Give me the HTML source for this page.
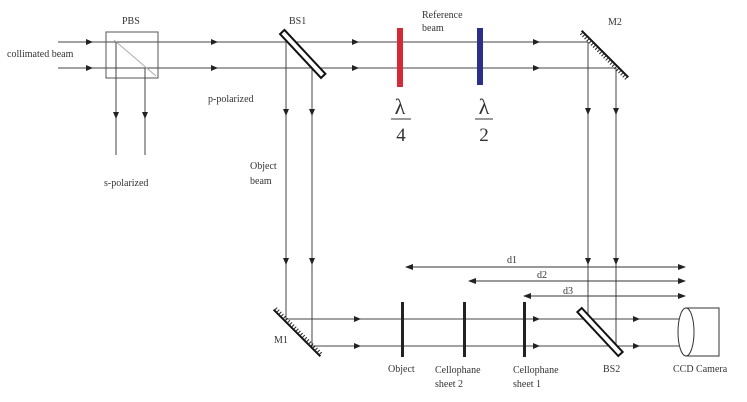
<!DOCTYPE html>
<html><head><style>
body{margin:0;background:#fff}
svg{display:block}
text{font-family:"Liberation Serif",serif;fill:#333;font-size:10px}
</style></head><body>
<svg width="747" height="402" viewBox="0 0 747 402" xmlns="http://www.w3.org/2000/svg">
<defs>
<marker id="a" markerWidth="8" markerHeight="6" refX="4" refY="3" orient="auto" markerUnits="userSpaceOnUse"><path d="M0,0 L7,3 L0,6 z" fill="#222"/></marker>
<marker id="e" markerWidth="8" markerHeight="6" refX="7" refY="3" orient="auto-start-reverse" markerUnits="userSpaceOnUse"><path d="M0,0 L8,3 L0,6 z" fill="#222"/></marker>
<pattern id="h" width="3" height="6" patternUnits="userSpaceOnUse"><line x1="1" y1="0" x2="1" y2="6" stroke="#222" stroke-width="1"/></pattern>
</defs>
<g stroke="#444" stroke-width="1" fill="none">
<path d="M58,42 H588"/><path d="M58,68 H615"/>
<rect x="106" y="32" width="52" height="46" stroke="#555"/>
<path d="M114,40 L156,76" stroke="#aaa"/>
<path d="M116,42 V155"/><path d="M145,68 V155"/>
<path d="M286,42 V319 H402"/><path d="M312,68 V346 H402"/>
<path d="M402,319 H680"/><path d="M402,346 H680"/>
<path d="M588,42 V319"/><path d="M616,68 V346"/>
</g>
<g stroke="none">
<path d="M60,42 L90,42" stroke="#444" marker-end="url(#a)"/>
<path d="M60,68 L90,68" stroke="#444" marker-end="url(#a)"/>
<path d="M200,42 L215,42" stroke="#444" marker-end="url(#a)"/>
<path d="M200,68 L215,68" stroke="#444" marker-end="url(#a)"/>
<path d="M340,42 L356,42" stroke="#444" marker-end="url(#a)"/>
<path d="M340,68 L356,68" stroke="#444" marker-end="url(#a)"/>
<path d="M525,42 L537,42" stroke="#444" marker-end="url(#a)"/>
<path d="M525,68 L537,68" stroke="#444" marker-end="url(#a)"/>
<path d="M116,105 L116,116" stroke="#444" marker-end="url(#a)"/>
<path d="M145,105 L145,116" stroke="#444" marker-end="url(#a)"/>
<path d="M286,100 L286,113" stroke="#444" marker-end="url(#a)"/>
<path d="M312,100 L312,113" stroke="#444" marker-end="url(#a)"/>
<path d="M286,250 L286,262" stroke="#444" marker-end="url(#a)"/>
<path d="M312,250 L312,262" stroke="#444" marker-end="url(#a)"/>
<path d="M588,100 L588,112" stroke="#444" marker-end="url(#a)"/>
<path d="M616,100 L616,112" stroke="#444" marker-end="url(#a)"/>
<path d="M588,250 L588,262" stroke="#444" marker-end="url(#a)"/>
<path d="M616,250 L616,262" stroke="#444" marker-end="url(#a)"/>
<path d="M345,319 L358,319" stroke="#444" marker-end="url(#a)"/>
<path d="M345,346 L358,346" stroke="#444" marker-end="url(#a)"/>
<path d="M525,319 L537,319" stroke="#444" marker-end="url(#a)"/>
<path d="M525,346 L537,346" stroke="#444" marker-end="url(#a)"/>
<path d="M625,319 L637,319" stroke="#444" marker-end="url(#a)"/>
<path d="M625,346 L637,346" stroke="#444" marker-end="url(#a)"/>
</g>
<g stroke="#333" stroke-width="1">
<path d="M406,267 H685" marker-start="url(#e)" marker-end="url(#e)"/>
<path d="M469,281 H685" marker-start="url(#e)" marker-end="url(#e)"/>
<path d="M524,296 H685" marker-start="url(#e)" marker-end="url(#e)"/>
</g>
<rect x="274" y="48" width="60" height="6" fill="#fff" stroke="#111" stroke-width="2" transform="rotate(47 300 51)"/>
<rect x="570" y="329" width="60" height="6" fill="#fff" stroke="#111" stroke-width="2" transform="rotate(47 600 332)"/>
<g transform="rotate(45 605 54)"><line x1="572" y1="54" x2="638" y2="54" stroke="#111" stroke-width="2"/><rect x="572" y="54" width="66" height="4" fill="url(#h)"/></g>
<g transform="rotate(45 297 333)"><line x1="264" y1="333" x2="330" y2="333" stroke="#111" stroke-width="2"/><rect x="264" y="329" width="66" height="4" fill="url(#h)"/></g>
<rect x="397" y="28" width="6" height="59" fill="#d42a35"/>
<rect x="477" y="28" width="6" height="57" fill="#2a2f8c"/>
<rect x="401" y="302" width="3" height="55" fill="#222"/>
<rect x="463" y="302" width="3" height="55" fill="#222"/>
<rect x="523" y="302" width="3" height="55" fill="#222"/>
<rect x="686" y="308" width="33" height="48" fill="#fff" stroke="#333"/>
<ellipse cx="686" cy="332" rx="8" ry="24" fill="#fff" stroke="#333"/>
<text x="400" y="114" style="font-size:22px" text-anchor="middle">λ</text>
<line x1="391" y1="119" x2="411" y2="119" stroke="#333"/>
<text x="401" y="141" style="font-size:19px" text-anchor="middle">4</text>
<text x="484" y="114" style="font-size:22px" text-anchor="middle">λ</text>
<line x1="475" y1="119" x2="493" y2="119" stroke="#333"/>
<text x="484" y="141" style="font-size:19px" text-anchor="middle">2</text>
<text x="122" y="24">PBS</text>
<text x="289" y="24">BS1</text>
<text x="608" y="25">M2</text>
<text x="7" y="57">collimated beam</text>
<text x="208" y="102">p-polarized</text>
<text x="104" y="186">s-polarized</text>
<text x="250" y="169">Object</text>
<text x="250" y="184">beam</text>
<text x="422" y="18">Reference</text>
<text x="422" y="31">beam</text>
<text x="274" y="343">M1</text>
<text x="507" y="263">d1</text>
<text x="537" y="278">d2</text>
<text x="563" y="294">d3</text>
<text x="388" y="372">Object</text>
<text x="435" y="373">Cellophane</text>
<text x="435" y="387">sheet 2</text>
<text x="513" y="373">Cellophane</text>
<text x="513" y="387">sheet 1</text>
<text x="603" y="372">BS2</text>
<text x="673" y="372">CCD Camera</text>
</svg>
</body></html>
